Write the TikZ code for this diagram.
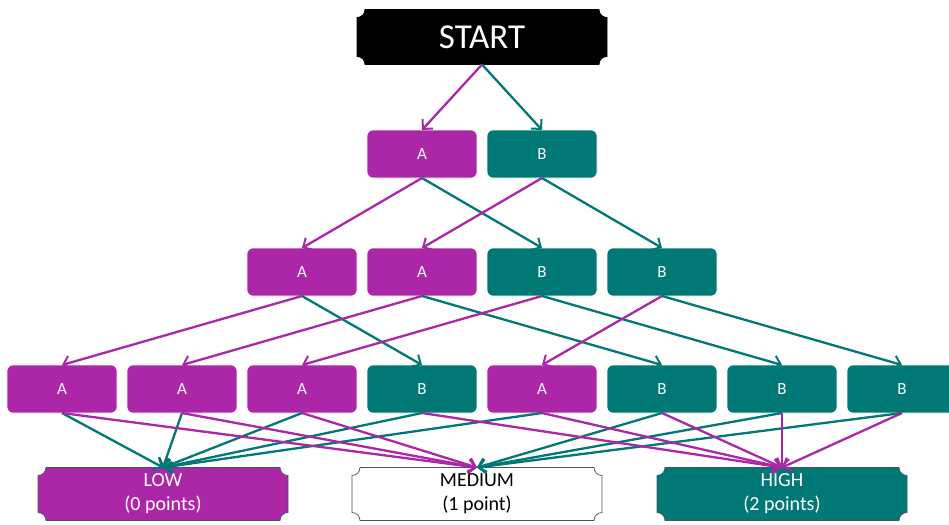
\documentclass[tikz,border=0pt]{standalone}
\usepackage{fontspec}
\setmainfont{Carlito}
\usetikzlibrary{arrows.meta, backgrounds}

\definecolor{pick}{RGB}{172,38,168}
\definecolor{skip}{RGB}{0,120,117}
\definecolor{rim}{RGB}{68,84,106}

% concave-cornered plate drawn round a named node
\newcommand{\plaque}[3]{%
  \filldraw[fill=#2, draw=#3, line width=0.7pt]
    ([xshift=8pt]#1.north west) -- ([xshift=-8pt]#1.north east)
    arc[start angle=180, end angle=270, radius=8pt]
    -- ([yshift=8pt]#1.south east)
    arc[start angle=90, end angle=180, radius=8pt]
    -- ([xshift=8pt]#1.south west)
    arc[start angle=0, end angle=90, radius=8pt]
    -- ([yshift=-8pt]#1.north west)
    arc[start angle=270, end angle=360, radius=8pt]
    -- cycle;}

\begin{document}
\begin{tikzpicture}[x=1pt, y=1pt,
    choice/.style={rectangle, rounded corners=6pt, minimum width=110pt, minimum height=48pt,
      inner sep=0pt, outer sep=0pt, draw=white, line width=0.6pt, text=white,
      font=\fontsize{17}{20}\selectfont},
    plate/.style={rectangle, minimum width=250pt, minimum height=53pt, inner sep=0pt,
      outer sep=0pt, align=center, font=\fontsize{20}{24}\selectfont},
    arr/.style={line width=2.3pt, -{Straight Barb[length=7pt, width=14pt, line width=2pt]}}]
  \useasboundingbox (0,0) rectangle (949,-524);

  \draw (482,-37)  node[plate, minimum height=55pt, text=white, font=\fontsize{35}{40}\selectfont] (start) {START};

  \draw (422,-154) node[choice, fill=pick] (a) {A};
  \draw (542,-154) node[choice, fill=skip] (b) {B};

  \draw (302,-272) node[choice, fill=pick] (aa) {A};
  \draw (422,-272) node[choice, fill=pick] (ba) {A};
  \draw (542,-272) node[choice, fill=skip] (ab) {B};
  \draw (662,-272) node[choice, fill=skip] (bb) {B};

  \draw (62,-389)  node[choice, fill=pick] (aaa) {A};
  \draw (182,-389) node[choice, fill=pick] (baa) {A};
  \draw (302,-389) node[choice, fill=pick] (aba) {A};
  \draw (422,-389) node[choice, fill=skip] (aab) {B};
  \draw (542,-389) node[choice, fill=pick] (bba) {A};
  \draw (662,-389) node[choice, fill=skip] (bab) {B};
  \draw (782,-389) node[choice, fill=skip] (abb) {B};
  \draw (902,-389) node[choice, fill=skip] (bbb) {B};

  \draw (163,-494) node[plate, text=white] (low) {LOW\\(0 points)};
  \draw (477,-494) node[plate, text=black] (medium) {MEDIUM\\(1 point)};
  \draw (782,-494) node[plate, text=white] (high) {HIGH\\(2 points)};

  \begin{scope}[on background layer]
    \plaque{start}{black}{black}
    \plaque{low}{pick}{rim}
    \plaque{medium}{white}{rim}
    \plaque{high}{skip}{rim}
  \end{scope}

  \draw[arr, color=pick] (start.south) -- (a.north);
  \draw[arr, color=skip] (start.south) -- (b.north);

  \draw[arr, color=pick] (a.south) -- (aa.north);
  \draw[arr, color=skip] (a.south) -- (ab.north);
  \draw[arr, color=pick] (b.south) -- (ba.north);
  \draw[arr, color=skip] (b.south) -- (bb.north);

  \draw[arr, color=pick] (aa.south) -- (aaa.north);
  \draw[arr, color=skip] (aa.south) -- (aab.north);
  \draw[arr, color=pick] (ba.south) -- (baa.north);
  \draw[arr, color=skip] (ba.south) -- (bab.north);
  \draw[arr, color=pick] (ab.south) -- (aba.north);
  \draw[arr, color=skip] (ab.south) -- (abb.north);
  \draw[arr, color=pick] (bb.south) -- (bba.north);
  \draw[arr, color=skip] (bb.south) -- (bbb.north);

  \draw[arr, color=skip] (aaa.south) -- (low.north);
  \draw[arr, color=skip] (baa.south) -- (low.north);
  \draw[arr, color=skip] (aba.south) -- (low.north);
  \draw[arr, color=skip] (aab.south) -- (low.north);
  \draw[arr, color=skip] (bba.south) -- (low.north);
  \draw[arr, color=pick] (aaa.south) -- (medium.north);
  \draw[arr, color=pick] (baa.south) -- (medium.north);
  \draw[arr, color=pick] (aba.south) -- (medium.north);
  \draw[arr, color=skip] (bab.south) -- (medium.north);
  \draw[arr, color=skip] (abb.south) -- (medium.north);
  \draw[arr, color=skip] (bbb.south) -- (medium.north);
  \draw[arr, color=pick] (aab.south) -- (high.north);
  \draw[arr, color=pick] (bba.south) -- (high.north);
  \draw[arr, color=pick] (bab.south) -- (high.north);
  \draw[arr, color=pick] (abb.south) -- (high.north);
  \draw[arr, color=pick] (bbb.south) -- (high.north);
\end{tikzpicture}
\end{document}
